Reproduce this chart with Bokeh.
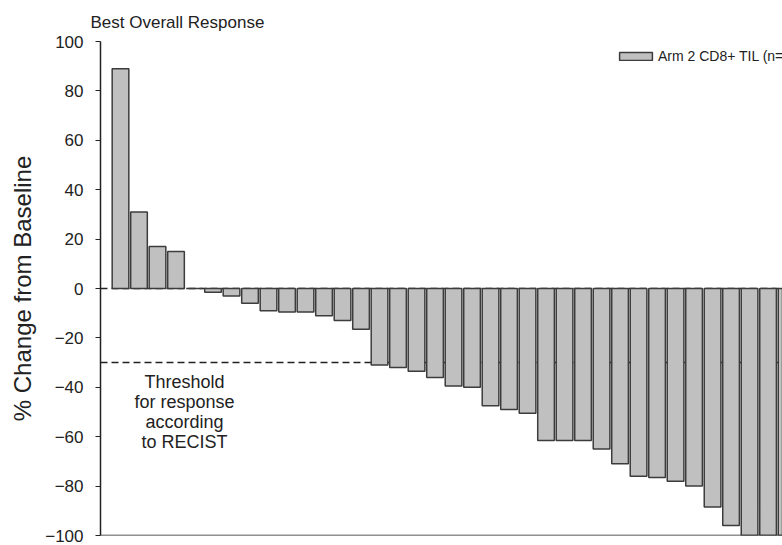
from bokeh.plotting import figure
from bokeh.models import Range1d, FixedTicker, Span, Label, ColumnDataSource
from bokeh.embed import file_html
from bokeh.resources import INLINE

# ---- data ----
patients = list(range(1, 38))
pct_change = [89, 31, 17, 15, 0, -1.5, -3, -6, -9, -9.5, -9.5, -11, -13, -16.5,
              -31, -32, -33.5, -36, -39.5, -40, -47.5, -49, -50.5,
              -61.5, -61.5, -61.5, -65, -71, -76, -76.5, -78, -80,
              -88.5, -96, -100, -100, -100]
y_ticks = [-100, -80, -60, -40, -20, 0, 20, 40, 60, 80, 100]
baseline_value = 0
response_threshold = -30
series_name = "Arm 2 CD8+ TIL (n="
title_text = "Best Overall Response"
y_label = "% Change from Baseline"
threshold_note = "Threshold\nfor response\naccording\nto RECIST"

FONT = "Liberation Sans"

src = ColumnDataSource(dict(x=patients, top=pct_change))

p = figure(width=782, height=545, output_backend="svg", toolbar_location=None,
           x_range=Range1d(-0.081, 36.78), y_range=Range1d(y_ticks[0], y_ticks[-1]),
           min_border_left=100, min_border_right=0, min_border_top=41,
           min_border_bottom=10, title=title_text)
p.xaxis.visible = False
p.xgrid.visible = False
p.ygrid.visible = False
p.outline_line_color = None
p.background_fill_color = "white"
p.border_fill_color = "white"

p.title.text_font = FONT
p.title.text_font_size = "17px"
p.title.text_font_style = "normal"
p.title.text_color = "#222222"
p.title.align = "left"
p.title.vertical_align = "top"
p.title.offset = -10
p.title.standoff = 16

ya = p.yaxis[0]
ya.ticker = FixedTicker(ticks=y_ticks)
ya.bounds = (y_ticks[0], y_ticks[-1])
ya.axis_label = y_label
ya.axis_label_text_font = FONT
ya.axis_label_text_font_size = "24px"
ya.axis_label_text_font_style = "normal"
ya.axis_label_text_color = "#222222"
ya.axis_label_standoff = 6
ya.major_label_text_font = FONT
ya.major_label_text_font_size = "17px"
ya.major_label_text_color = "#222222"
ya.major_label_standoff = 12
ya.major_tick_out = 5
ya.major_tick_in = 0
ya.minor_tick_out = 0
ya.minor_tick_in = 0
ya.axis_line_width = 1.5
ya.axis_line_color = "#222222"
ya.major_tick_line_width = 1.2
ya.major_tick_line_color = "#222222"

# threshold line and baseline (under bars)
p.add_layout(Span(location=response_threshold, dimension="width", line_color="#222222",
                  line_width=1.5, line_dash="7 4", level="underlay"))
p.add_layout(Span(location=baseline_value, dimension="width", line_color="#222222",
                  line_width=1.5, line_dash="7 4", level="underlay"))
# bottom line
p.add_layout(Span(location=y_ticks[0], dimension="width", line_color="#222222",
                  line_width=1.5))

p.vbar(x="x", top="top", bottom=baseline_value, width=0.9, source=src,
       fill_color="#c0c0c0", line_color="#3c3c3c", line_width=1.5,
       legend_label=series_name)

p.add_layout(Label(x=4.46, y=-34, text=threshold_note, text_align="center",
                   text_baseline="top", text_font=FONT, text_font_size="18px",
                   text_color="#222222", text_line_height=1.0))

lg = p.legend[0]
lg.location = (515, 471)
lg.padding = 0
lg.margin = 0
lg.spacing = 0
lg.border_line_color = None
lg.background_fill_alpha = 0
lg.glyph_width = 41
lg.glyph_height = 10
lg.label_height = 10
lg.label_standoff = 2
lg.label_text_font = FONT
lg.label_text_font_size = "14px"
lg.label_text_color = "#222222"

open("out.html", "w").write(file_html(p, INLINE))
